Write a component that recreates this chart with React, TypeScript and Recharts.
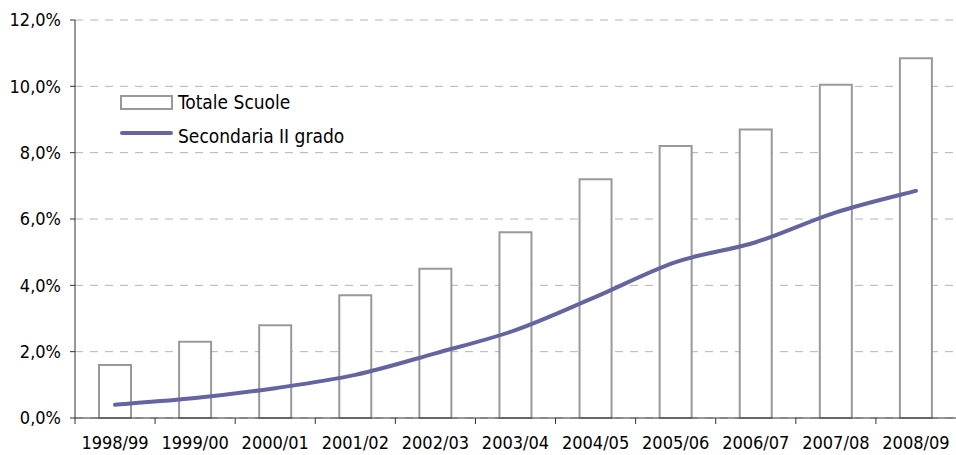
import { ComposedChart, Bar, Line, XAxis, YAxis, CartesianGrid, Legend } from 'recharts';

const categories = ['1998/99', '1999/00', '2000/01', '2001/02', '2002/03', '2003/04', '2004/05', '2005/06', '2006/07', '2007/08', '2008/09'];
const totaleScuole = [1.6, 2.3, 2.8, 3.7, 4.5, 5.6, 7.2, 8.2, 8.7, 10.05, 10.85];
const secondaria = [0.4, 0.6, 0.9, 1.3, 1.95, 2.65, 3.65, 4.7, 5.3, 6.2, 6.85];
const yTicks = [0, 2, 4, 6, 8, 10, 12];

const data = categories.map((c, i) => ({ name: c, totale: totaleScuole[i], secondaria: secondaria[i] }));

const FONT = '"DejaVu Sans Condensed", "DejaVu Sans", Verdana, sans-serif';
const LINE_COLOR = '#6464a0';
const BAR_STROKE = '#999999';

// Excel-like smoothed line (Catmull-Rom through the points)
const smoothCurve = (context: any) => {
  let pts: number[][] = [];
  return {
    areaStart() {},
    areaEnd() {},
    lineStart() {
      pts = [];
    },
    point(x: number, y: number) {
      pts.push([+x, +y]);
    },
    lineEnd() {
      if (!pts.length) return;
      context.moveTo(pts[0][0], pts[0][1]);
      for (let i = 0; i < pts.length - 1; i++) {
        const p0 = pts[i - 1] || pts[i];
        const p1 = pts[i];
        const p2 = pts[i + 1];
        const p3 = pts[i + 2] || p2;
        context.bezierCurveTo(
          p1[0] + (p2[0] - p0[0]) / 6,
          p1[1] + (p2[1] - p0[1]) / 6,
          p2[0] - (p3[0] - p1[0]) / 6,
          p2[1] - (p3[1] - p1[1]) / 6,
          p2[0],
          p2[1]
        );
      }
    },
  };
};

const XTick = (props: any) => {
  const { x, y, payload } = props;
  const half = payload?.offset || 40;
  return (
    <g>
      <line x1={x - half} y1={y - 8} x2={x - half} y2={y - 2} stroke="#333" strokeWidth={1} />
      <text x={x} y={y} dy={23} textAnchor="middle" fontSize={18} fontFamily={FONT} fill="#000">
        {payload.value}
      </text>
    </g>
  );
};

const LegendBox = () => (
  <div style={{ fontFamily: FONT, fontSize: 19, color: '#000', lineHeight: 1 }}>
    <div style={{ display: 'flex', alignItems: 'center', height: 34 }}>
      <svg width={58} height={16}>
        <rect x={6} y={2} width={51} height={13} fill="#fff" stroke={BAR_STROKE} strokeWidth={2} />
      </svg>
      <span style={{ marginLeft: 5 }}>Totale Scuole</span>
    </div>
    <div style={{ display: 'flex', alignItems: 'center', height: 34 }}>
      <svg width={58} height={16}>
        <line x1={7} y1={5} x2={56} y2={5} stroke={LINE_COLOR} strokeWidth={4} strokeLinecap="round" />
      </svg>
      <span style={{ marginLeft: 5 }}>Secondaria II grado</span>
    </div>
  </div>
);

export default function App() {
  return (
    <div style={{ position: 'absolute', left: 0, top: 0, background: '#fff' }}>
      <ComposedChart width={956} height={455} data={data} margin={{ top: 20, right: 0, bottom: 0, left: 0 }}>
        <CartesianGrid vertical={false} stroke="#b4b4b4" strokeDasharray="8 7" />
        <XAxis
          dataKey="name"
          height={37}
          axisLine={{ stroke: '#333' }}
          tickLine={false}
          tickSize={6}
          tick={<XTick />}
          interval={0}
        />
        <YAxis
          width={75}
          domain={[0, 12]}
          ticks={yTicks}
          axisLine={{ stroke: '#333' }}
          tickLine={{ stroke: '#333' }}
          tickSize={5}
          tickMargin={9}
          tickFormatter={(v: number) => v.toFixed(1).replace('.', ',') + '%'}
          tick={{ fontSize: 18, fontFamily: FONT, fill: '#000' }}
        />
        <Legend
          layout="vertical"
          align="center"
          verticalAlign="middle"
          wrapperStyle={{ top: 85, left: 115, width: 'auto' }}
          content={() => <LegendBox />}
        />
        <Bar dataKey="totale" name="Totale Scuole" barSize={32} fill="#fff" stroke={BAR_STROKE} strokeWidth={2} isAnimationActive={false} />
        <Line dataKey="secondaria" name="Secondaria II grado" type={smoothCurve as any} stroke={LINE_COLOR} strokeWidth={4} dot={false} strokeLinecap="round" isAnimationActive={false} />
      </ComposedChart>
    </div>
  );
}
